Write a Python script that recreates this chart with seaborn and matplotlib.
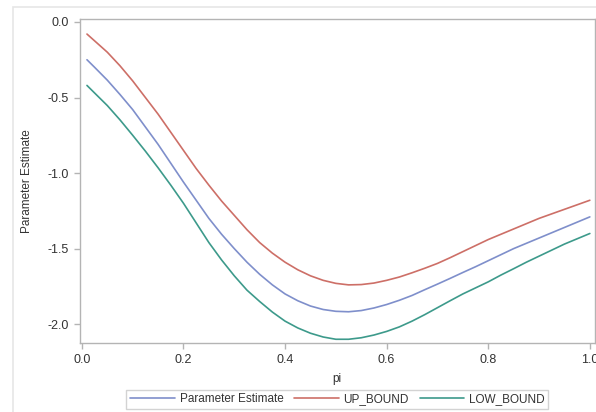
import matplotlib
matplotlib.use("Agg")
import matplotlib.pyplot as plt
import seaborn as sns
import pandas as pd
from matplotlib.patches import Rectangle

# valores
pi = [0.01, 0.025, 0.05, 0.075, 0.10, 0.125, 0.15, 0.175, 0.20, 0.225, 0.25,
      0.275, 0.30, 0.325, 0.35, 0.375, 0.40, 0.425, 0.45, 0.475, 0.50,
      0.525, 0.55, 0.575, 0.60, 0.625, 0.65, 0.675, 0.70, 0.725, 0.75,
      0.775, 0.80, 0.825, 0.85, 0.875, 0.90, 0.925, 0.95, 0.975, 1.00]
estimate = [-0.25, -0.30, -0.385, -0.48, -0.58, -0.695, -0.81, -0.935, -1.06, -1.18, -1.30,
            -1.405, -1.50, -1.59, -1.67, -1.74, -1.80, -1.845, -1.88, -1.903, -1.915,
            -1.918, -1.91, -1.893, -1.87, -1.842, -1.81, -1.772, -1.735, -1.697, -1.658,
            -1.62, -1.58, -1.54, -1.50, -1.465, -1.43, -1.395, -1.36, -1.325, -1.29]
up_bound = [-0.08, -0.125, -0.20, -0.29, -0.39, -0.50, -0.61, -0.73, -0.85, -0.97, -1.08,
            -1.185, -1.28, -1.375, -1.46, -1.53, -1.59, -1.64, -1.68, -1.71, -1.73,
            -1.74, -1.738, -1.728, -1.71, -1.688, -1.66, -1.63, -1.598, -1.56, -1.52,
            -1.48, -1.44, -1.405, -1.37, -1.335, -1.30, -1.27, -1.24, -1.21, -1.18]
low_bound = [-0.42, -0.47, -0.553, -0.648, -0.75, -0.855, -0.965, -1.08, -1.20, -1.33, -1.46,
             -1.575, -1.68, -1.775, -1.85, -1.92, -1.98, -2.025, -2.06, -2.085, -2.10,
             -2.10, -2.09, -2.072, -2.048, -2.018, -1.98, -1.937, -1.891, -1.845, -1.80,
             -1.76, -1.72, -1.675, -1.633, -1.59, -1.55, -1.51, -1.47, -1.435, -1.40]

series = ["Parameter Estimate", "UP_BOUND", "LOW_BOUND"]
cores = ["#7F8FCB", "#CD6F67", "#3D9A8B"]

df = pd.DataFrame({
    "pi": pi * 3,
    "valor": estimate + up_bound + low_bound,
    "serie": [series[0]] * len(pi) + [series[1]] * len(pi) + [series[2]] * len(pi),
})

sns.set_style("white")
plt.rcParams["font.family"] = ["Liberation Sans", "DejaVu Sans"]

fig = plt.figure(figsize=(5.96, 4.12), dpi=100)
ax = fig.add_axes([0.134, 0.167, 0.864, 0.787])

# moldura externa clara
fig.patches.append(Rectangle((0.022, -0.05), 1.2, 1.033, transform=fig.transFigure,
                             fill=False, edgecolor="#e6e6e6", linewidth=1.2))

sns.lineplot(data=df, x="pi", y="valor", hue="serie", hue_order=series,
             palette=cores, linewidth=1.2, ax=ax)

ax.set_xlim(-0.004, 1.0098)
ax.set_ylim(-2.126, 0.02)
ax.set_xticks([0.0, 0.2, 0.4, 0.6, 0.8, 1.0])
ax.set_yticks([0.0, -0.5, -1.0, -1.5, -2.0])
ax.set_xticklabels(["0.0", "0.2", "0.4", "0.6", "0.8", "1.0"])
ax.set_yticklabels(["0.0", "-0.5", "-1.0", "-1.5", "-2.0"])

for s in ax.spines.values():
    s.set_color("#b4b4b4")
    s.set_linewidth(1.0)
ax.tick_params(axis="both", direction="out", length=4, width=1, color="#b4b4b4",
               labelsize=9, labelcolor="#333333", pad=4, bottom=True, left=True)

ax.set_xlabel("pi", fontsize=8.5, color="#333333", labelpad=5)
ax.set_ylabel("Parameter Estimate", fontsize=8.5, color="#333333", labelpad=10)

sns.move_legend(ax, "center", bbox_to_anchor=(0.5, -0.173), ncol=3, title=None,
                frameon=True, fontsize=8.5, handlelength=3.8, columnspacing=0.9,
                handletextpad=0.4, borderpad=0.3, fancybox=False)
leg = ax.get_legend()
leg.get_frame().set_edgecolor("#c8c8c8")
leg.get_frame().set_linewidth(1.0)
for t in leg.get_texts():
    t.set_color("#333333")

fig.savefig("out.png", dpi=100)
